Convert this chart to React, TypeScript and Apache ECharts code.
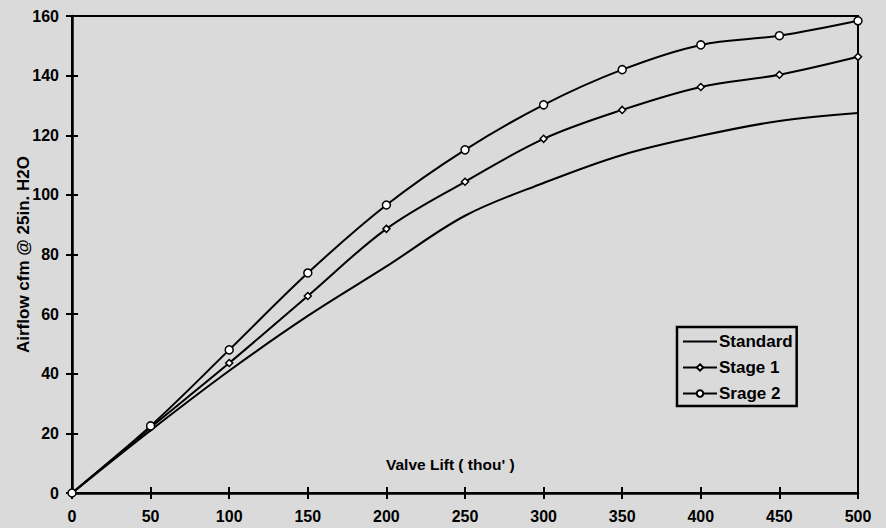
import React, { useEffect, useRef } from "react";
import * as echarts from "echarts";

const xValues = [0, 50, 100, 150, 200, 250, 300, 350, 400, 450, 500];
const standard = [0, 21, 41, 59.4, 76, 93, 104, 113.4, 119.8, 124.8, 127.5];
const stage1 = [0, 22, 43.6, 66.1, 88.6, 104.4, 118.8, 128.5, 136.2, 140.3, 146.3];
const stage2 = [0, 22.5, 48, 73.8, 96.6, 115.1, 130.2, 142, 150.3, 153.4, 158.4];
const seriesNames = ["Standard", "Stage 1", "Srage 2"];

const FONT = "Liberation Sans, Arial, sans-serif";

export default function App() {
  const ref = useRef<HTMLDivElement>(null);
  useEffect(() => {
    if (!ref.current) return;
    const chart = echarts.init(ref.current, undefined, { renderer: "svg" });
    const pairs = (ys: number[]) => xValues.map((x, i) => [x, ys[i]]);
    const labelStyle = { color: "#000", fontFamily: FONT, fontWeight: "bold" as const, fontSize: 16 };
    const baseX = { type: "value" as const, min: 0, max: 500, interval: 50, splitLine: { show: false } };
    const baseY = { type: "value" as const, min: 0, max: 160, interval: 20, splitLine: { show: false } };
    chart.setOption({
      animation: false,
      backgroundColor: "#dadada",
      grid: {
        left: 72, right: 28, top: 16, bottom: 35,
        outerBoundsMode: "none",
        containLabel: false,
        show: true, borderColor: "#000", borderWidth: 2, backgroundColor: "transparent",
      },
      legend: {
        orient: "vertical",
        left: 677, top: 327,
        data: [
          { name: seriesNames[0], icon: "path://M0,0H34V2H0Z" },
          { name: seriesNames[1] },
          { name: seriesNames[2] },
        ],
        formatter: "{b|{name}}",
        borderColor: "#000", borderWidth: 2.5,
        padding: [6, 4, 4, 5],
        itemWidth: 34, itemHeight: 8, itemGap: 9,
        textStyle: {
          color: "#000", fontFamily: FONT, fontWeight: "bold", fontSize: 17, padding: [0, 0, 0, -3],
          rich: { b: { color: "#000", fontFamily: FONT, fontWeight: "bold", fontSize: 17 } },
        },
        backgroundColor: "transparent",
      },
      xAxis: [
        {
          ...baseX,
          axisLine: { lineStyle: { color: "#000", width: 2.5 } },
          axisTick: { length: 6, lineStyle: { color: "#000", width: 2 } },
          axisLabel: { ...labelStyle, margin: 15 },
        },
        {
          ...baseX,
          position: "bottom",
          axisLine: { show: false },
          axisTick: { inside: true, length: 6, lineStyle: { color: "#000", width: 2 } },
          axisLabel: { show: false },
        },
      ],
      yAxis: [
        {
          ...baseY,
          name: "Airflow cfm @ 25in. H2O",
          nameLocation: "middle",
          nameGap: 40,
          nameMoveOverlap: false,
          nameTextStyle: { ...labelStyle, fontSize: 17 },
          axisLine: { lineStyle: { color: "#000", width: 2.5 } },
          axisTick: { length: 6, lineStyle: { color: "#000", width: 2 } },
          axisLabel: { ...labelStyle, margin: 13 },
        },
        {
          ...baseY,
          position: "left",
          axisLine: { show: false },
          axisTick: { inside: true, length: 6, lineStyle: { color: "#000", width: 2 } },
          axisLabel: { show: false },
        },
      ],
      graphic: [
        {
          type: "text",
          left: 386, top: 456,
          style: { text: "Valve Lift ( thou' )", fill: "#000", font: `bold 15.5px ${FONT}` },
        },
      ],
      series: [
        {
          name: seriesNames[0], type: "line", data: pairs(standard), smooth: 0.35,
          symbol: "none", lineStyle: { color: "#000", width: 2 }, itemStyle: { color: "#000" },
        },
        {
          name: seriesNames[1], type: "line", data: pairs(stage1), smooth: 0.35,
          symbol: "diamond", symbolSize: 7, showAllSymbol: true,
          lineStyle: { color: "#000", width: 2 },
          itemStyle: { color: "#fff", borderColor: "#000", borderWidth: 1.5 },
        },
        {
          name: seriesNames[2], type: "line", data: pairs(stage2), smooth: 0.35,
          symbol: "circle", symbolSize: 8, showAllSymbol: true,
          lineStyle: { color: "#000", width: 2 },
          itemStyle: { color: "#fff", borderColor: "#000", borderWidth: 1.5 },
        },
      ],
    });
    return () => chart.dispose();
  }, []);
  return (
    <div
      ref={ref}
      style={{ position: "fixed", left: 0, top: 0, width: 886, height: 528 }}
    />
  );
}
